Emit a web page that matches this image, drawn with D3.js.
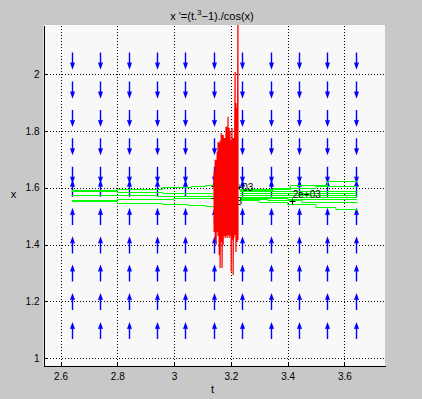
<!DOCTYPE html>
<html>
<head>
<meta charset="utf-8">
<script src="https://cdn.jsdelivr.net/npm/d3@7"></script>
<style>
body { margin: 0; background: #c8c8c8; }
svg { display: block; }
text { font-family: "Liberation Sans", Arial, Helvetica, sans-serif; fill: #000; }
</style>
</head>
<body>
<svg width="422" height="399"></svg>
<script>
// axis ticks
var tTicks = [2.6, 2.8, 3, 3.2, 3.4, 3.6];
var xTicks = [1, 1.2, 1.4, 1.6, 1.8, 2];

// direction field grid (x' = (t^3-1)/cos(x))
var arrowT = [2.64, 2.74, 2.84, 2.94, 3.04, 3.14, 3.24, 3.34, 3.44, 3.54, 3.64];
var arrowX = [1.068, 1.170, 1.270, 1.369, 1.469, 1.568, 1.674, 1.774, 1.873, 1.973, 2.075];

// green solutions, [t, x]
var greenCurves = [
  [[2.64, 1.592], [2.80, 1.596], [2.96, 1.603], [3.06, 1.606], [3.11, 1.610], [3.14, 1.613]],
  [[2.64, 1.588], [2.80, 1.585], [2.96, 1.583], [3.06, 1.581], [3.14, 1.581]],
  [[2.64, 1.574], [2.94, 1.571], [3.14, 1.570]],
  [[2.64, 1.557], [2.80, 1.560], [3.00, 1.562], [3.14, 1.564]],
  [[2.64, 1.553], [2.80, 1.546], [2.96, 1.543], [3.05, 1.539], [3.11, 1.536], [3.14, 1.532]],
  [[3.232, 1.596], [3.41, 1.610], [3.54, 1.624], [3.644, 1.624]],
  [[3.232, 1.592], [3.35, 1.599], [3.50, 1.606], [3.644, 1.606]],
  [[3.232, 1.588], [3.644, 1.588]],
  [[3.232, 1.581], [3.40, 1.580], [3.644, 1.580]],
  [[3.232, 1.574], [3.644, 1.574]],
  [[3.232, 1.567], [3.50, 1.567], [3.644, 1.567]],
  [[3.232, 1.564], [3.40, 1.560], [3.644, 1.557]],
  [[3.232, 1.560], [3.33, 1.557], [3.45, 1.550], [3.644, 1.546]],
  [[3.232, 1.557], [3.30, 1.550], [3.40, 1.543], [3.50, 1.532], [3.57, 1.525], [3.644, 1.522]]
];

// red solution: upper and lower turning points per t
var redT = [3.141, 3.145, 3.148, 3.152, 3.155, 3.159, 3.162, 3.166, 3.169, 3.173, 3.176, 3.180, 3.183,
            3.187, 3.190, 3.194, 3.197, 3.201, 3.204, 3.208, 3.211, 3.215, 3.218, 3.222, 3.225];
var redTop = [1.655, 1.698, 1.698, 1.726, 1.761, 1.757, 1.764, 1.792, 1.785, 1.785, 1.775, 1.775, 1.814,
              1.814, 1.849, 1.810, 1.796, 1.768, 1.810, 1.775, 1.775, 2.007, 1.898, 1.880, 2.25];
var redBot = [1.444, 1.416, 1.399, 1.444, 1.430, 1.363, 1.318, 1.409, 1.318, 1.399, 1.430, 1.423, 1.430,
              1.423, 1.434, 1.423, 1.430, 1.304, 1.416, 1.293, 1.423, 1.434, 1.374, 1.409, 1.416];

// solver messages
var labels = [
  {t: 3.180, x: 1.590, text: '2e+03'},
  {t: 3.141, x: 1.539, text: '2e+03'},
  {t: 3.418, x: 1.564, text: '2e+03'}
];
var marks = [
  {t: 3.139, x: 1.607},
  {t: 3.139, x: 1.563},
  {t: 3.416, x: 1.554}
];

var svg = d3.select('svg');
var pL = 43.5, pR = 385, pT = 25, pB = 366;

var x = d3.scaleLinear().domain([2.54, 3.743]).range([pL, pR]);
var y = d3.scaleLinear().domain([0.973, 2.172]).range([pB, pT]);

svg.append('rect').attr('x', pL).attr('y', pT).attr('width', pR - pL).attr('height', pB - pT).attr('fill', '#f8f8f8');

svg.append('defs').append('clipPath').attr('id', 'clip')
  .append('rect').attr('x', pL).attr('y', pT).attr('width', pR - pL).attr('height', pB - pT);

// dotted grid
var gx = svg.append('g').attr('transform', 'translate(0,' + pB + ')')
  .call(d3.axisBottom(x).tickValues(tTicks).tickSize(-(pB - pT)).tickFormat(''));
var gy = svg.append('g').attr('transform', 'translate(' + pL + ',0)')
  .call(d3.axisLeft(y).tickValues(xTicks).tickSize(-(pR - pL)).tickFormat(''));
[gx, gy].forEach(function(g) {
  g.select('.domain').remove();
  g.selectAll('line').attr('stroke', '#000').attr('stroke-dasharray', '1,2').attr('shape-rendering', 'crispEdges');
});

var plot = svg.append('g').attr('clip-path', 'url(#clip)');

// arrows
var cells = [];
arrowT.forEach(function(t) { arrowX.forEach(function(v) { cells.push({t: t, x: v}); }); });
plot.append('g').selectAll('path').data(cells).enter().append('path')
  .attr('d', function(d) {
    var dir = Math.sign((d.t * d.t * d.t - 1) / Math.cos(d.x));
    var cx = Math.round(x(d.t)) + 0.5, y0 = y(d.x), tip = y0 - dir * 15, b = tip + dir * 5;
    return 'M' + cx + ',' + y0 + 'L' + cx + ',' + tip + 'M' + (cx - 1.8) + ',' + b + 'L' + cx + ',' + tip + 'L' + (cx + 1.8) + ',' + b;
  })
  .attr('fill', 'none').attr('stroke', '#0000ff').attr('stroke-width', 1.4);

// green solutions
var greenLine = d3.line().x(function(d) { return x(d[0]); }).y(function(d) { return Math.round(y(d[1])) + 0.5; }).curve(d3.curveStepAfter);
plot.append('g').selectAll('path').data(greenCurves).enter().append('path')
  .attr('d', greenLine).attr('fill', 'none').attr('stroke', '#00ff00').attr('stroke-width', 1);

// messages
plot.append('g').selectAll('text').data(labels).enter().append('text')
  .attr('x', function(d) { return x(d.t); }).attr('y', function(d) { return y(d.x); })
  .attr('font-size', 10).text(function(d) { return d.text; });
plot.append('g').selectAll('path').data(marks).enter().append('path')
  .attr('d', function(d) {
    var cx = Math.round(x(d.t)) + 0.5, cy = Math.round(y(d.x)) + 0.5;
    return 'M' + (cx - 3) + ',' + cy + 'H' + (cx + 3) + 'M' + cx + ',' + (cy - 3) + 'V' + (cy + 3);
  })
  .attr('fill', 'none').attr('stroke', '#000').attr('stroke-width', 1);

// red solution
var redPts = [];
redT.forEach(function(t, i) { redPts.push([t, redTop[i]]); redPts.push([t, redBot[i]]); });
plot.append('path').datum(redPts)
  .attr('d', d3.line().x(function(d) { return x(d[0]); }).y(function(d) { return y(d[1]); }))
  .attr('fill', 'none').attr('stroke', '#ff0000').attr('stroke-width', 1.2);

// axes
var ax = svg.append('g').attr('transform', 'translate(0,' + pB + ')')
  .call(d3.axisBottom(x).tickValues(tTicks).tickSize(-4).tickSizeOuter(0).tickPadding(7).tickFormat(function(d) { return String(d); }));
var ay = svg.append('g').attr('transform', 'translate(' + pL + ',0)')
  .call(d3.axisLeft(y).tickValues(xTicks).tickSize(-4).tickSizeOuter(0).tickPadding(4).tickFormat(function(d) { return String(d); }));
[ax, ay].forEach(function(g) {
  g.attr('font-family', null).attr('font-size', 10);
  g.selectAll('line, path').attr('stroke', '#000').attr('shape-rendering', 'crispEdges');
  g.selectAll('text').attr('fill', '#000');
});

// title and labels
var title = svg.append('text').attr('x', 212).attr('y', 19.5).attr('text-anchor', 'middle').attr('font-size', 11);
title.append('tspan').text("x '=(t.");
title.append('tspan').attr('dy', -5).attr('font-size', 8).text('3');
title.append('tspan').attr('dy', 5).text('\u22121)./cos(x)');

svg.append('text').attr('x', 212.5).attr('y', 393).attr('text-anchor', 'middle').attr('font-size', 11).text('t');
svg.append('text').attr('x', 13.5).attr('y', 198).attr('text-anchor', 'middle').attr('font-size', 11).text('x');
</script>
</body>
</html>
